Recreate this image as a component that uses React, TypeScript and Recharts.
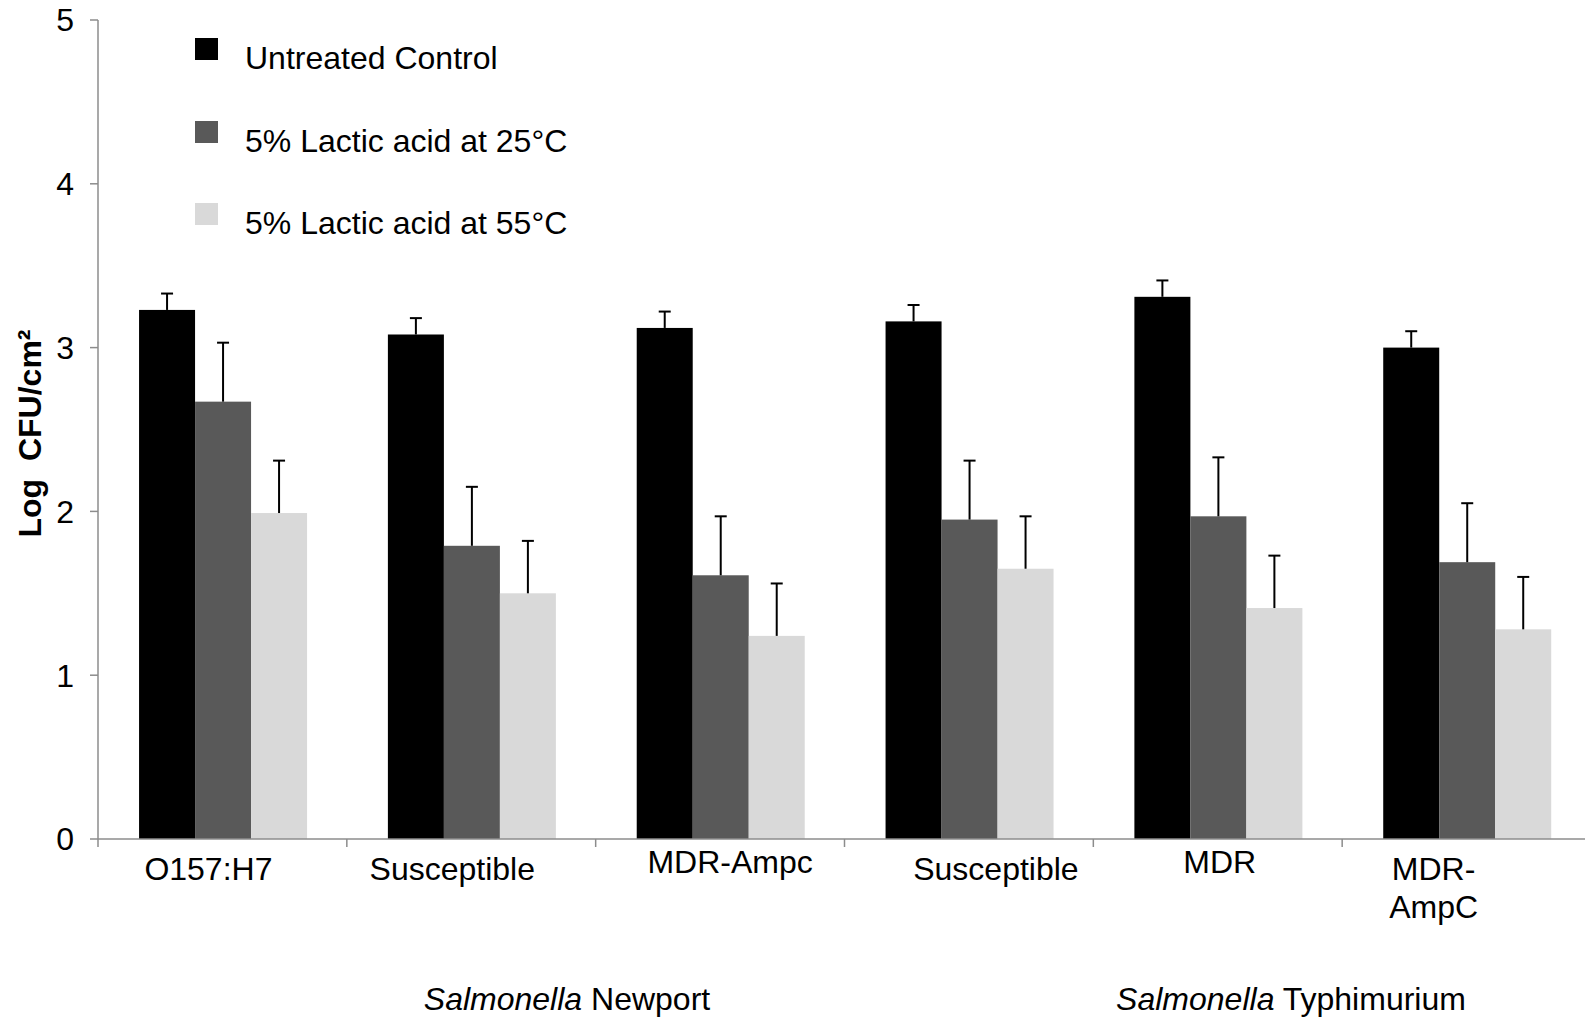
import { BarChart, Bar, XAxis, YAxis, Legend } from 'recharts';

// values (log CFU/cm2), error = upper SD only
const categories = ['O157:H7', 'Susceptible', 'MDR-Ampc', 'Susceptible', 'MDR', 'MDR-\nAmpC'];
const control = [3.23, 3.08, 3.12, 3.16, 3.31, 3.0];
const controlErr = [0.1, 0.1, 0.1, 0.1, 0.1, 0.1];
const lactic25 = [2.67, 1.79, 1.61, 1.95, 1.97, 1.69];
const lactic25Err = [0.36, 0.36, 0.36, 0.36, 0.36, 0.36];
const lactic55 = [1.99, 1.5, 1.24, 1.65, 1.41, 1.28];
const lactic55Err = [0.32, 0.32, 0.32, 0.32, 0.32, 0.32];
const yTicks = [0, 1, 2, 3, 4, 5];

const seriesNames = ['Untreated Control', '5% Lactic acid at 25°C', '5% Lactic acid at 55°C'];
const seriesColors = ['#000000', '#595959', '#d9d9d9'];

const data = categories.map((name, i) => ({
  name,
  pos: i + 0.5,
  control: control[i],
  controlErr: controlErr[i],
  lactic25: lactic25[i],
  lactic25Err: lactic25Err[i],
  lactic55: lactic55[i],
  lactic55Err: lactic55Err[i],
}));

// band edges (integers) get a tick mark, band centres (halves) get the label
const xTicks = categories.flatMap((_, i) => [i, i + 0.5]).concat(categories.length);

const AXIS = '#8c8c8c';
const FONT = '"Liberation Sans", Arial, sans-serif';
const FS = 32;
// the original labels sit a little off their band centres
const labelNudge = [
  [-14, 0],
  [-19, 0],
  [10, -7],
  [27, 0],
  [2, -7],
  [-33, 0],
];

// bar + upward-only error whisker
const barWithErr = (valueKey: string, errKey: string) => (props: any) => {
  const { x, y, width, height, fill, payload } = props;
  const v = payload[valueKey];
  const errPx = v > 0 ? (payload[errKey] * height) / v : 0;
  const cx = x + width / 2;
  return (
    <g>
      <rect x={x} y={y} width={width} height={height} fill={fill} />
      <line x1={cx} y1={y} x2={cx} y2={y - errPx} stroke="#000" strokeWidth={2} />
      <line x1={cx - 6} y1={y - errPx} x2={cx + 6} y2={y - errPx} stroke="#000" strokeWidth={2} />
    </g>
  );
};

const XTick = (props: any) => {
  const { x, y, payload } = props;
  const v = payload.value;
  if (Number.isInteger(v)) {
    return <line x1={x} y1={y} x2={x} y2={y + 8} stroke={AXIS} strokeWidth={1.5} />;
  }
  const idx = Math.floor(v);
  const [dx, dy] = labelNudge[idx];
  const lines = categories[idx].split('\n');
  return (
    <text x={x + dx} y={y + dy} textAnchor="middle" fontSize={FS} fill="#000">
      {lines.map((l, i) => (
        <tspan key={i} x={x + dx} dy={i === 0 ? 41 : 38}>
          {l}
        </tspan>
      ))}
    </text>
  );
};

const YLabel = (props: any) => {
  const { x, y, height } = props.viewBox;
  return (
    <text
      transform={`translate(${x + 30},${y + height / 2 + 4}) rotate(-90)`}
      textAnchor="middle"
      dominantBaseline="central"
      fontSize={FS}
      fontWeight="bold"
      fill="#000"
      style={{ whiteSpace: 'pre' }}
    >
      Log  CFU/cm²
    </text>
  );
};

const LegendBox = (props: any) => {
  const items = [...props.payload].sort(
    (a: any, b: any) => seriesNames.indexOf(a.value) - seriesNames.indexOf(b.value)
  );
  return (
    <div>
      {items.map((p: any) => (
        <div key={p.value} style={{ position: 'relative', height: 82.5 }}>
          <div style={{ position: 'absolute', left: 0, top: 0, width: 23, height: 22, background: p.color }} />
          <div
            style={{
              position: 'absolute',
              left: 50,
              top: 4,
              fontSize: FS,
              lineHeight: '32px',
              whiteSpace: 'nowrap',
              color: '#000',
            }}
          >
            {p.value}
          </div>
        </div>
      ))}
    </div>
  );
};

export default function App() {
  return (
    <div
      style={{
        position: 'absolute',
        left: 0,
        top: 0,
        width: 1585,
        height: 1021,
        background: '#fff',
        fontFamily: FONT,
        overflow: 'hidden',
      }}
    >
      <BarChart
        width={1585}
        height={1021}
        data={data}
        margin={{ top: 20, right: -6, bottom: 122, left: 0 }}
        barCategoryGap="16.5%"
        barGap={0}
      >
        <XAxis xAxisId="cat" dataKey="name" hide height={0} />
        <XAxis
          xAxisId="num"
          dataKey="pos"
          type="number"
          scale="linear"
          domain={[0, categories.length]}
          ticks={xTicks}
          interval={0}
          allowDataOverflow
          height={60}
          tickSize={0}
          tickMargin={0}
          tickLine={false}
          axisLine={{ stroke: AXIS, strokeWidth: 1.5 }}
          tick={<XTick />}
        />
        <YAxis
          width={98}
          domain={[0, 5]}
          ticks={yTicks}
          interval={0}
          tickSize={8}
          tickMargin={16}
          axisLine={{ stroke: AXIS, strokeWidth: 1.5 }}
          tickLine={{ stroke: AXIS, strokeWidth: 1.5 }}
          tick={{ fill: '#000', fontSize: FS }}
          label={{ content: <YLabel /> }}
        />
        <Legend
          layout="vertical"
          align="center"
          verticalAlign="middle"
          wrapperStyle={{ left: 195, top: 38, width: 440 }}
          content={<LegendBox />}
        />
        <Bar
          xAxisId="cat"
          dataKey="control"
          name={seriesNames[0]}
          fill={seriesColors[0]}
          shape={barWithErr('control', 'controlErr')}
          isAnimationActive={false}
        />
        <Bar
          xAxisId="cat"
          dataKey="lactic25"
          name={seriesNames[1]}
          fill={seriesColors[1]}
          shape={barWithErr('lactic25', 'lactic25Err')}
          isAnimationActive={false}
        />
        <Bar
          xAxisId="cat"
          dataKey="lactic55"
          name={seriesNames[2]}
          fill={seriesColors[2]}
          shape={barWithErr('lactic55', 'lactic55Err')}
          isAnimationActive={false}
        />
      </BarChart>
      <div style={{ position: 'absolute', left: 567, top: 981, transform: 'translateX(-50%)', fontSize: FS, whiteSpace: 'nowrap' }}>
        <i>Salmonella</i> Newport
      </div>
      <div style={{ position: 'absolute', left: 1291, top: 981, transform: 'translateX(-50%)', fontSize: FS, whiteSpace: 'nowrap' }}>
        <i>Salmonella</i> Typhimurium
      </div>
    </div>
  );
}
